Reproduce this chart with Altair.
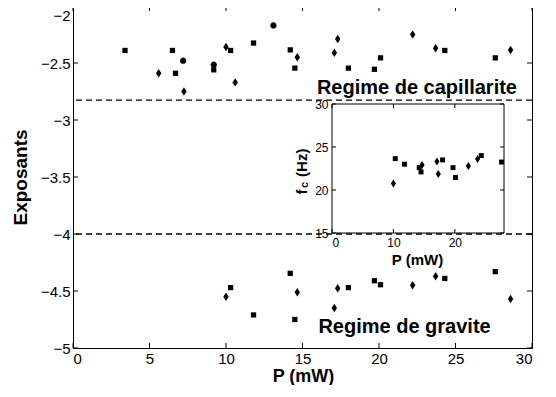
import altair as alt
import pandas as pd

# ---- data ----
main_p = [3.4, 5.6, 6.5, 6.7, 7.2, 7.25, 9.2, 9.2, 10.0, 10.3, 10.6, 11.8, 13.1,
          14.2, 14.5, 14.66, 17.08, 17.3, 18.0, 19.7, 20.1, 22.2, 23.7, 24.3, 27.6, 28.6,
          10.0, 10.3, 11.8, 14.2, 14.66, 14.5, 17.08, 17.3, 18.0, 19.7, 20.1, 22.2,
          23.7, 24.3, 27.6, 28.6]
main_e = [-2.39, -2.59, -2.39, -2.59, -2.48, -2.75, -2.515, -2.56, -2.36, -2.39, -2.67,
          -2.325, -2.17, -2.385, -2.545, -2.45, -2.41, -2.29, -2.545, -2.555, -2.455,
          -2.25, -2.37, -2.39, -2.455, -2.385,
          -4.55, -4.47, -4.71, -4.345, -4.51, -4.75, -4.65, -4.475, -4.47, -4.41,
          -4.445, -4.45, -4.37, -4.39, -4.33, -4.57]
main_m = ["s", "d", "s", "s", "o", "d", "o", "s", "d", "s", "d", "s", "o",
          "s", "s", "d", "d", "d", "s", "s", "s", "d", "d", "s", "s", "d",
          "d", "s", "s", "s", "d", "s", "d", "d", "s", "s", "s", "d", "d", "s", "s", "d"]

inset_p = [10.0, 10.3, 11.8, 14.2, 14.66, 14.5, 17.08, 17.3, 18.0, 19.7, 20.1, 22.2,
           23.7, 24.3, 27.6]
inset_f = [20.75, 23.65, 23.0, 22.6, 22.9, 22.1, 23.3, 21.85, 23.5, 22.6, 21.45, 22.8,
           23.6, 24.0, 23.25]
inset_m = ["d", "s", "s", "s", "d", "s", "d", "d", "s", "s", "s", "d", "d", "s", "s"]

thresholds = [-2.825, -4.0]
x_ticks = [0, 5, 10, 15, 20, 25, 30]
y_ticks = [-5, -4.5, -4, -3.5, -3, -2.5, -2]
ix_ticks = [0, 10, 20]
iy_ticks = [15, 20, 25, 30]
notes = ["Regime de capillarite", "Regime de gravite"]
notes_x = [22.48, 21.67]
notes_y = [-2.772, -4.871]

df_main = pd.DataFrame({"P": main_p, "E": main_e, "M": main_m})
df_inset = pd.DataFrame({"P": inset_p, "F": inset_f, "M": inset_m})
df_thr = pd.DataFrame({"y": thresholds})
df_notes = pd.DataFrame({"t": notes, "x": notes_x, "y": notes_y})
df_xt = pd.DataFrame({"v": x_ticks})
df_yt = pd.DataFrame({"v": y_ticks})
df_ixt = pd.DataFrame({"v": ix_ticks})
df_iyt = pd.DataFrame({"v": iy_ticks})

W, H = 459, 342
IX0, IX1, IY0, IY1 = 259, 431, 227, 98   # inset pixel frame inside the plot
TK = 5
FONT = "Liberation Sans"

SQ = "M-0.62,-0.62H0.62V0.62H-0.62Z"
DM = "M0,-1L0.64,0L0,1L-0.64,0Z"
CI = "M0.74,0A0.74,0.74 0 1,1 -0.74,0A0.74,0.74 0 1,1 0.74,0Z"
shape_scale = alt.Scale(domain=["s", "d", "o"], range=[SQ, DM, CI])

xs = alt.Scale(domain=[0, 30], nice=False, zero=False)
ys = alt.Scale(domain=[-5, -2], nice=False, zero=False)
ixs = alt.Scale(domain=[0, 28], range=[IX0, IX1], nice=False, zero=False)
iys = alt.Scale(domain=[15, 30], range=[IY0, IY1], nice=False, zero=False)


def xticks(df, scale, y_from, y_to):
    return alt.Chart(df).mark_rule(color="black", strokeWidth=1).encode(
        x=alt.X("v:Q", scale=scale, axis=None),
        y=alt.value(y_from), y2=alt.value(y_to))


def yticks(df, scale, x_from, x_to):
    return alt.Chart(df).mark_rule(color="black", strokeWidth=1).encode(
        y=alt.Y("v:Q", scale=scale, axis=None),
        x=alt.value(x_from), x2=alt.value(x_to))


base = alt.Chart(df_main)

main_pts = base.mark_point(filled=True, size=72, color="black", opacity=1).encode(
    x=alt.X("P:Q", scale=xs, axis=alt.Axis(
        orient="bottom", values=x_ticks, ticks=False, tickSize=0,
        domain=True, labelFontSize=15, labelPadding=3, format="d",
        title="P (mW)", titleFontSize=18, titleFontWeight="bold",
        titleX=230, titleY=28, titleBaseline="middle", titleAlign="center")),
    y=alt.Y("E:Q", scale=ys, axis=alt.Axis(
        orient="left", values=y_ticks, ticks=False, tickSize=0,
        domain=True, labelFontSize=15, labelPadding=3, format="~g",
        labelBaseline={"expr": "datum.value == -2 ? 'top' : 'middle'"},
        labelOffset={"expr": "datum.value == -2 ? 2 : 0"},
        title="Exposants", titleFontSize=19, titleFontWeight="bold",
        titleX=-53, titleY=171, titleBaseline="middle", titleAlign="center",
        titleAngle=270)),
    shape=alt.Shape("M:N", scale=shape_scale, legend=None),
)

rules = alt.Chart(df_thr).mark_rule(color="black", strokeWidth=1.3,
                                    strokeDash=[6, 4]).encode(
    y=alt.Y("y:Q", scale=ys, axis=None))

texts = alt.Chart(df_notes).mark_text(font=FONT, fontSize=20, fontWeight="bold",
                                      color="black", align="center",
                                      baseline="alphabetic").encode(
    x=alt.X("x:Q", scale=xs, axis=None),
    y=alt.Y("y:Q", scale=ys, axis=None),
    text="t:N")

main_ticks = [
    xticks(df_xt, xs, H, H - TK),
    xticks(df_xt, xs, 0, TK),
    yticks(df_yt, ys, 0, TK),
    yticks(df_yt, ys, W, W - TK),
]

inset_box = alt.Chart(pd.DataFrame({"a": [0]})).mark_rect(
    fill="white", stroke="black", strokeWidth=1).encode(
    x=alt.X(datum=0, scale=ixs, axis=None),
    x2=alt.X2(datum=28),
    y=alt.Y(datum=15, scale=iys, axis=None),
    y2=alt.Y2(datum=30),
)

inset_pts = alt.Chart(df_inset).mark_point(filled=True, size=64, color="black",
                                           opacity=1).encode(
    x=alt.X("P:Q", scale=ixs, axis=alt.Axis(
        orient="bottom", offset=IY0 - H, values=ix_ticks, ticks=False, tickSize=0,
        domain=False, labelFontSize=12, labelPadding=4, format="d",
        title="P (mW)", titleFontSize=15, titleFontWeight="bold",
        titleX=344, titleY=26, titleBaseline="middle", titleAlign="center")),
    y=alt.Y("F:Q", scale=iys, axis=alt.Axis(
        orient="left", offset=-IX0, values=iy_ticks, ticks=False, tickSize=0,
        domain=False, labelFontSize=12, labelPadding=4, format="d",
        title="f\u00a0\u00a0\u00a0(Hz)", titleFontSize=15, titleFontWeight="bold",
        titleX=-31, titleY=165, titleBaseline="middle", titleAlign="center",
        titleAngle=270)),
    shape=alt.Shape("M:N", scale=shape_scale, legend=None),
)

inset_ticks = [
    xticks(df_ixt, ixs, IY0, IY0 - 4),
    xticks(df_ixt, ixs, IY1, IY1 + 4),
    yticks(df_iyt, iys, IX0, IX0 + 4),
    yticks(df_iyt, iys, IX1, IX1 - 4),
]

sub_c = alt.Chart(pd.DataFrame({"t": ["c"]})).mark_text(
    font=FONT, fontSize=11, fontWeight="bold", color="black", angle=270,
    align="center", baseline="middle").encode(
    x=alt.value(232), y=alt.value(179), text="t:N")

chart = alt.layer(
    main_pts, rules, texts, *main_ticks,
    inset_box, inset_pts, *inset_ticks, sub_c,
).resolve_scale(
    x="independent", y="independent", shape="independent"
).resolve_axis(
    x="independent", y="independent"
).properties(
    width=W, height=H,
    autosize=alt.AutoSizeParams(type="none"),
    padding={"left": 65, "top": -2, "right": 15, "bottom": 37},
    background="white",
).configure_view(
    stroke="black", strokeWidth=1
).configure_axis(
    grid=False, labelFont=FONT, titleFont=FONT, labelColor="black",
    titleColor="black", domainColor="black", tickColor="black",
    domainWidth=1, tickWidth=1,
)

chart.save("out.html", embed_options={"renderer": "svg", "actions": False})
